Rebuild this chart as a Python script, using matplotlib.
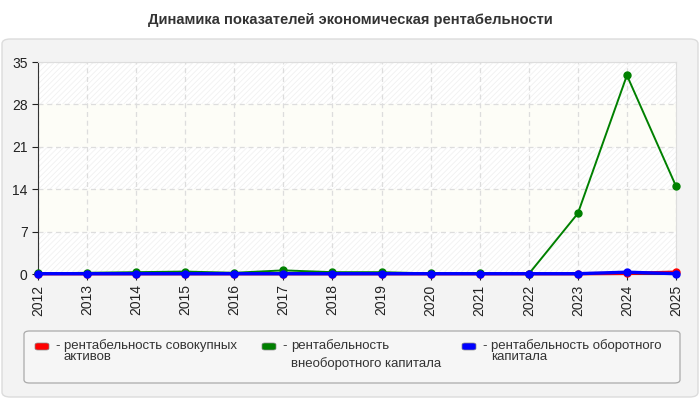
import numpy as np
import matplotlib.pyplot as plt
from matplotlib.patches import FancyBboxPatch, Rectangle

plt.rcParams['font.family'] = ['Liberation Sans', 'DejaVu Sans']
plt.rcParams['hatch.linewidth'] = 0.6

years = ['2012', '2013', '2014', '2015', '2016', '2017', '2018',
         '2019', '2020', '2021', '2022', '2023', '2024', '2025']
total_assets = [0.05, 0.05, 0.05, 0.05, 0.05, 0.05, 0.05,
                0.05, 0.05, 0.05, 0.05, 0.05, 0.1, 0.3]
fixed_capital = [0.1, 0.2, 0.3, 0.4, 0.2, 0.6, 0.3,
                 0.3, 0.1, 0.1, 0.0, 10.0, 32.8, 14.5]
working_capital = [0.05, 0.05, 0.05, 0.05, 0.05, 0.05, 0.05,
                   0.05, 0.05, 0.05, 0.05, 0.05, 0.3, 0.05]
labels = ['рентабельность совокупных\nактивов',
          'рентабельность\nвнеоборотного капитала',
          'рентабельность оборотного\nкапитала']
colors = ['#ff0000', '#008000', '#0000ff']
title = 'Динамика показателей экономическая рентабельности'

fig = plt.figure(figsize=(7, 4), dpi=100)
fig.patch.set_facecolor('white')

# outer panel
panel = FancyBboxPatch((2 / 700, 3 / 400), 696 / 700, 358 / 400,
                       boxstyle='round,pad=0,rounding_size=0.012',
                       transform=fig.transFigure, facecolor='#f3f3f3',
                       edgecolor='#dcdcdc', linewidth=1, zorder=-5)
fig.patches.append(panel)

fig.text(0.5, 1 - 20 / 400, title, ha='center', va='center',
         fontsize=10.6, fontweight='bold', color='#333333')

ax = fig.add_axes([38 / 700, 1 - 274 / 400, 638 / 700, 212 / 400])
ax.set_facecolor('white')
x = np.arange(len(years))

# alternating bands
for i, lo in enumerate(range(0, 35, 7)):
    if i % 2 == 0:
        ax.add_patch(Rectangle((-0.5, lo), 20, 7, facecolor='white',
                               edgecolor='#f1f1f1', hatch='//////',
                               linewidth=0, zorder=0))
    else:
        ax.add_patch(Rectangle((-0.5, lo), 20, 7, facecolor='#fdfdf7',
                               edgecolor='none', zorder=0))

series = [total_assets, fixed_capital, working_capital]
widths = [2.4, 1.4, 2.4]
for vals, c, w in zip(series, colors, widths):
    ax.plot(x, vals, color=c, linewidth=w,
            marker='o', markersize=5, zorder=3, clip_on=False)

ax.set_xlim(0, len(years) - 1)
ax.set_ylim(0, 35)
ax.set_yticks(range(0, 36, 7))
ax.set_xticks(x)
ax.set_xticklabels(years, rotation=90)
ax.tick_params(labelsize=10, colors='#222222', length=4)
ax.grid(True, color='#dddddd', linestyle=(0, (4, 3)), linewidth=0.9)
ax.set_axisbelow(True)
for s in ['top', 'right']:
    ax.spines[s].set_color('#dddddd')
for s in ['left', 'bottom']:
    ax.spines[s].set_color('#333333')

# legend box
lbox = FancyBboxPatch((24 / 700, 1 - 383 / 400), 656 / 700, 52 / 400,
                      boxstyle='round,pad=0,rounding_size=0.008',
                      transform=fig.transFigure, facecolor='#f6f6f6',
                      edgecolor='#aaaaaa', linewidth=0.9, zorder=1)
fig.patches.append(lbox)
lx = [35, 262, 462]
for xx, lab, c in zip(lx, labels, colors):
    fig.patches.append(FancyBboxPatch((xx / 700, 1 - 350 / 400), 14 / 700, 7 / 400,
                                      boxstyle='round,pad=0,rounding_size=0.004',
                                      transform=fig.transFigure, facecolor=c,
                                      edgecolor='#888888', linewidth=0.5, zorder=2))
    fig.text((xx + 20) / 700, 1 - 346 / 400, '-', ha='left', va='center',
             fontsize=9.5, color='#333333')
    fig.text((xx + 29) / 700, 1 - 339 / 400, lab, ha='left', va='top',
             fontsize=9.5, color='#333333', linespacing=0.95 if c != '#008000' else 1.5)

fig.savefig('out.png', dpi=100)
